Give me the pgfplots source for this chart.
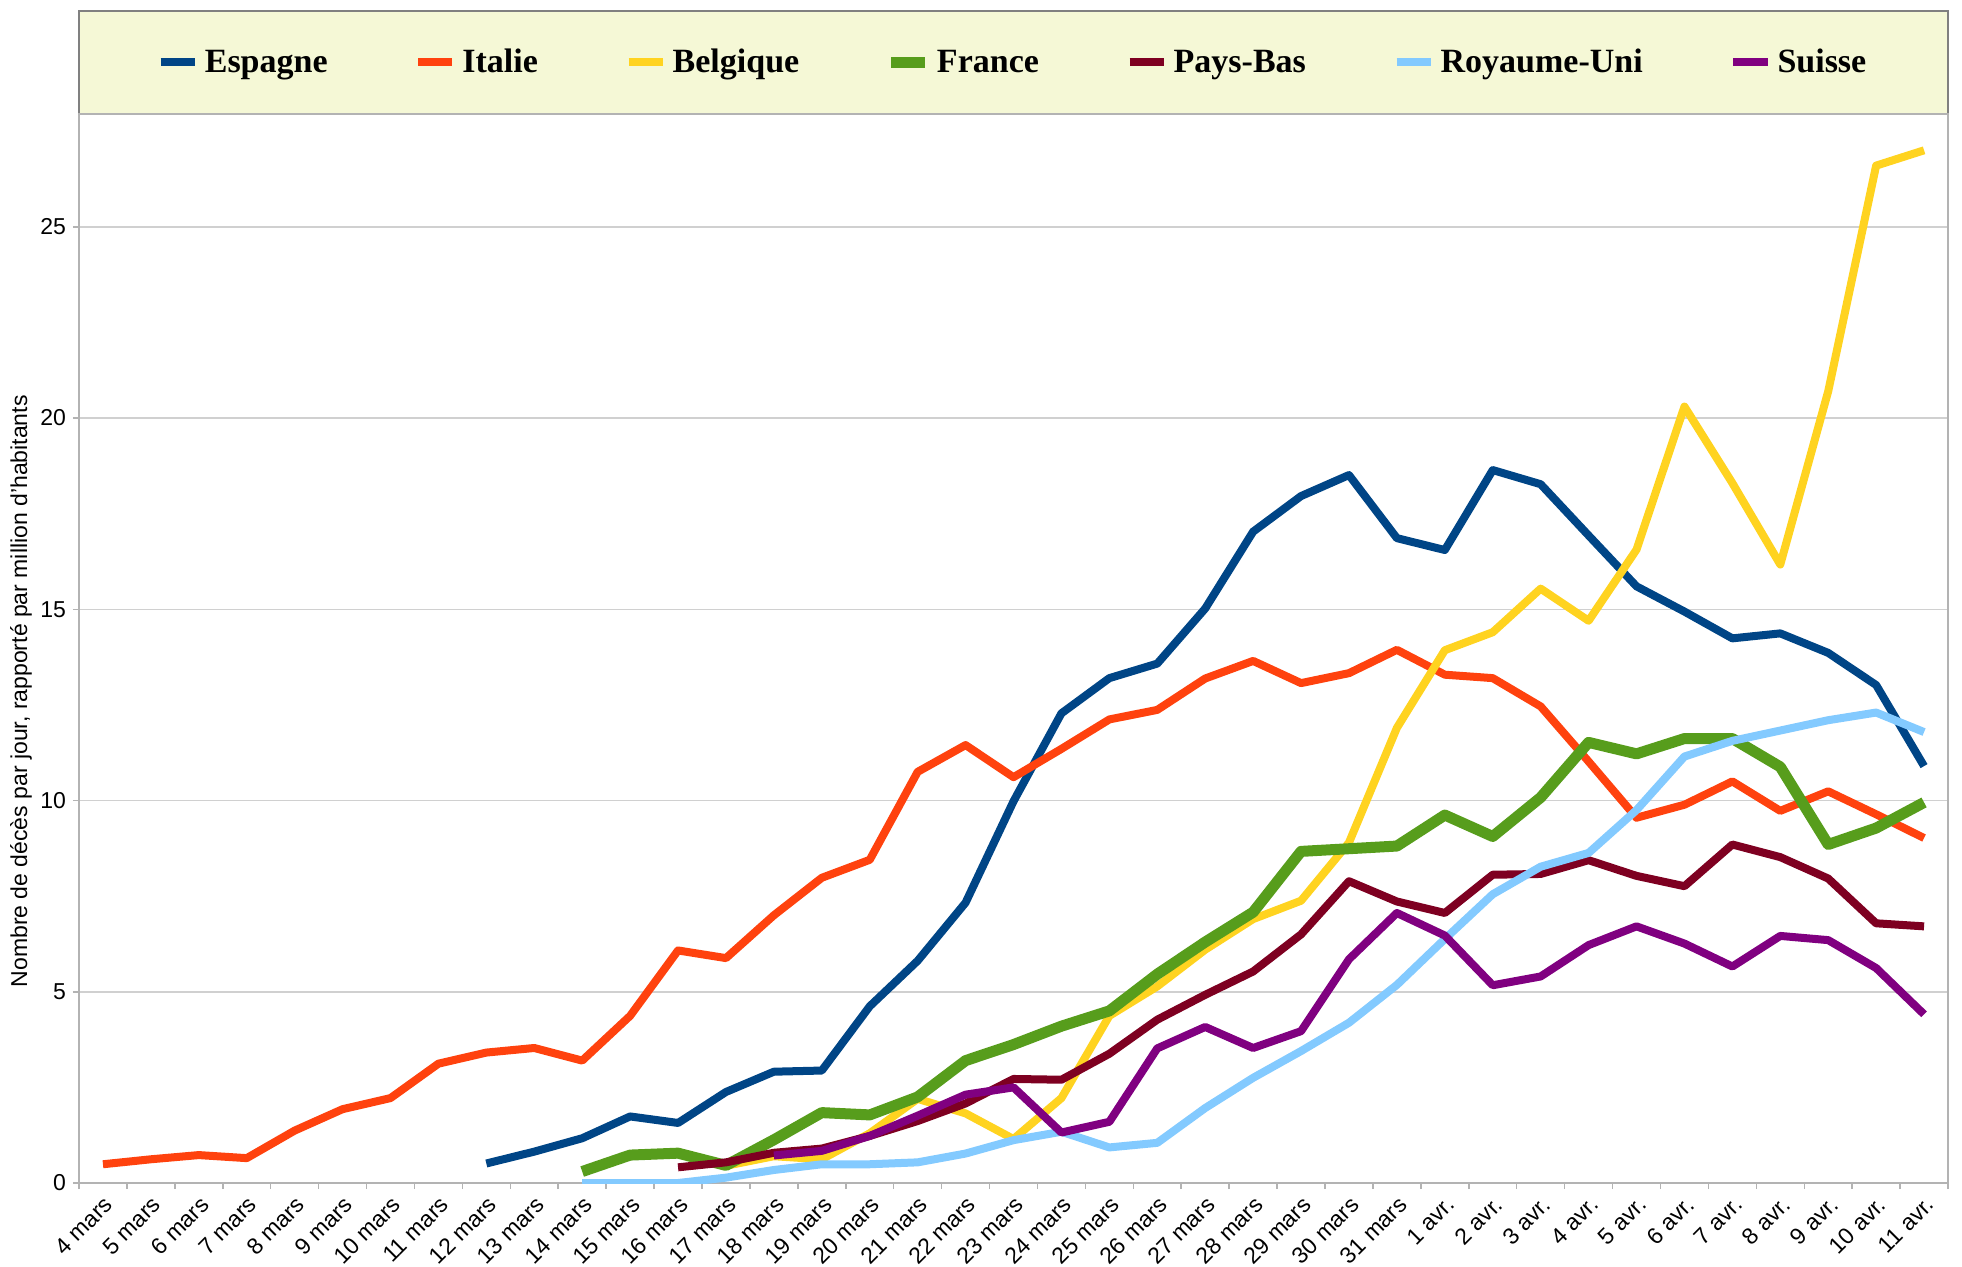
\documentclass[border=0pt]{standalone}
\usepackage{fontspec}
\setmainfont{Liberation Sans}
\newfontfamily\legfont{Liberation Serif}
\usepackage{pgfplots}
\pgfplotsset{compat=1.18}
\definecolor{cEsp}{HTML}{004586}
\definecolor{cIta}{HTML}{FF420E}
\definecolor{cBel}{HTML}{FFD320}
\definecolor{cFra}{HTML}{579D1C}
\definecolor{cPB}{HTML}{7E0021}
\definecolor{cRU}{HTML}{83CAFF}
\definecolor{cSui}{HTML}{800080}
\definecolor{legbg}{HTML}{F5F8D6}
\definecolor{axgray}{HTML}{B3B3B3}
\definecolor{gridgray}{HTML}{D0D0D0}
\begin{document}
\begin{tikzpicture}
\useasboundingbox (-39.5pt,-42pt) rectangle (941.5pt,591.5pt);
\fill[legbg] (0,534.5pt) rectangle (934.5pt,586pt);
\draw[gray, line width=1pt] (0,534.5pt) rectangle (934.5pt,586pt);
\begin{axis}[
  at={(0,0)}, anchor=south west,
  scale only axis, width=934.5pt, height=534.5pt,
  xmin=-0.5, xmax=38.5, ymin=0, ymax=27.95,
  xtick={0,...,38},
  xticklabels={4 mars,5 mars,6 mars,7 mars,8 mars,9 mars,10 mars,11 mars,12 mars,13 mars,14 mars,15 mars,16 mars,17 mars,18 mars,19 mars,20 mars,21 mars,22 mars,23 mars,24 mars,25 mars,26 mars,27 mars,28 mars,29 mars,30 mars,31 mars,1 avr.,2 avr.,3 avr.,4 avr.,5 avr.,6 avr.,7 avr.,8 avr.,9 avr.,10 avr.,11 avr.},
  minor xtick={-0.5,0.5,...,38.5},
  ytick={0,5,10,15,20,25},
  xtick pos=bottom, ytick pos=left,
  tick align=outside,
  major tick length=3pt, minor tick length=3pt,
  major x tick style={draw=none},
  minor x tick style={axgray, line width=0.75pt},
  ytick style={axgray, line width=0.75pt},
  axis line style={axgray, line width=0.75pt},
  ymajorgrids, grid style={gridgray, line width=0.75pt},
  /pgf/number format/assume math mode=true,
  ticklabel style={font=\fontsize{11.5}{13}\selectfont},
  xticklabel style={rotate=45, anchor=north east, inner sep=2pt},
  ylabel={Nombre de décès par jour, rapporté par million d'habitants},
  ylabel style={at={(rel axis cs:-0.031,0.46)}, anchor=center, font=\fontsize{11.5}{13}\selectfont},
  legend columns=-1,
  legend style={at={(0.5,1.0482)}, anchor=center, draw=none, fill=none,
    font=\legfont\bfseries\fontsize{17}{20}\selectfont,
    /tikz/every odd column/.append style={column sep=1pt},
    /tikz/every even column/.append style={column sep=41.3pt}},
  every axis plot/.append style={line width=4pt, line join=round},
]
\addplot[cEsp] coordinates {(8,0.51) (9,0.82) (10,1.17) (11,1.74) (12,1.57) (13,2.38) (14,2.91) (15,2.94) (16,4.62) (17,5.81) (18,7.33) (19,9.98) (20,12.28) (21,13.2) (22,13.58) (23,15.02) (24,17.03) (25,17.96) (26,18.51) (27,16.86) (28,16.55) (29,18.64) (30,18.27) (31,16.93) (32,15.6) (33,14.94) (34,14.24) (35,14.37) (36,13.86) (37,13.02) (38,10.9)};
\addlegendentry{Espagne}
\addplot[cIta] coordinates {(0,0.49) (1,0.62) (2,0.73) (3,0.65) (4,1.37) (5,1.93) (6,2.22) (7,3.12) (8,3.41) (9,3.53) (10,3.2) (11,4.37) (12,6.08) (13,5.88) (14,7.0) (15,7.98) (16,8.45) (17,10.75) (18,11.45) (19,10.61) (20,11.35) (21,12.12) (22,12.37) (23,13.19) (24,13.65) (25,13.07) (26,13.33) (27,13.94) (28,13.29) (29,13.2) (30,12.46) (31,11.02) (32,9.55) (33,9.89) (34,10.5) (35,9.73) (36,10.24) (37,9.64) (38,9.02)};
\addlegendentry{Italie}
\addplot[cBel] coordinates {(13,0.45) (14,0.7) (15,0.62) (16,1.3) (17,2.2) (18,1.82) (19,1.15) (20,2.22) (21,4.37) (22,5.14) (23,6.1) (24,6.9) (25,7.38) (26,8.9) (27,11.9) (28,13.93) (29,14.4) (30,15.54) (31,14.7) (32,16.56) (33,20.3) (34,18.3) (35,16.17) (36,20.7) (37,26.6) (38,27.0)};
\addlegendentry{Belgique}
\addplot[cFra, line width=5.5pt] coordinates {(10,0.3) (11,0.73) (12,0.78) (13,0.46) (14,1.13) (15,1.84) (16,1.78) (17,2.25) (18,3.2) (19,3.62) (20,4.1) (21,4.5) (22,5.46) (23,6.3) (24,7.08) (25,8.67) (26,8.74) (27,8.81) (28,9.62) (29,9.06) (30,10.08) (31,11.52) (32,11.22) (33,11.62) (34,11.62) (35,10.88) (36,8.85) (37,9.28) (38,9.95)};
\addlegendentry{France}
\addplot[cPB] coordinates {(12,0.41) (13,0.54) (14,0.79) (15,0.9) (16,1.23) (17,1.62) (18,2.08) (19,2.72) (20,2.7) (21,3.38) (22,4.27) (23,4.92) (24,5.53) (25,6.5) (26,7.89) (27,7.36) (28,7.06) (29,8.06) (30,8.08) (31,8.44) (32,8.03) (33,7.76) (34,8.85) (35,8.52) (36,7.96) (37,6.79) (38,6.71)};
\addlegendentry{Pays-Bas}
\addplot[cRU] coordinates {(10,0) (11,0) (12,0) (13,0.14) (14,0.34) (15,0.49) (16,0.49) (17,0.54) (18,0.77) (19,1.12) (20,1.34) (21,0.93) (22,1.05) (23,1.96) (24,2.75) (25,3.45) (26,4.19) (27,5.18) (28,6.38) (29,7.55) (30,8.27) (31,8.63) (32,9.75) (33,11.15) (34,11.56) (35,11.83) (36,12.1) (37,12.3) (38,11.79)};
\addlegendentry{Royaume-Uni}
\addplot[cSui] coordinates {(14,0.72) (15,0.84) (16,1.23) (17,1.76) (18,2.31) (19,2.5) (20,1.32) (21,1.6) (22,3.52) (23,4.08) (24,3.53) (25,3.97) (26,5.85) (27,7.06) (28,6.47) (29,5.17) (30,5.4) (31,6.22) (32,6.71) (33,6.26) (34,5.66) (35,6.46) (36,6.35) (37,5.62) (38,4.41)};
\addlegendentry{Suisse}
\end{axis}
\end{tikzpicture}
\end{document}
